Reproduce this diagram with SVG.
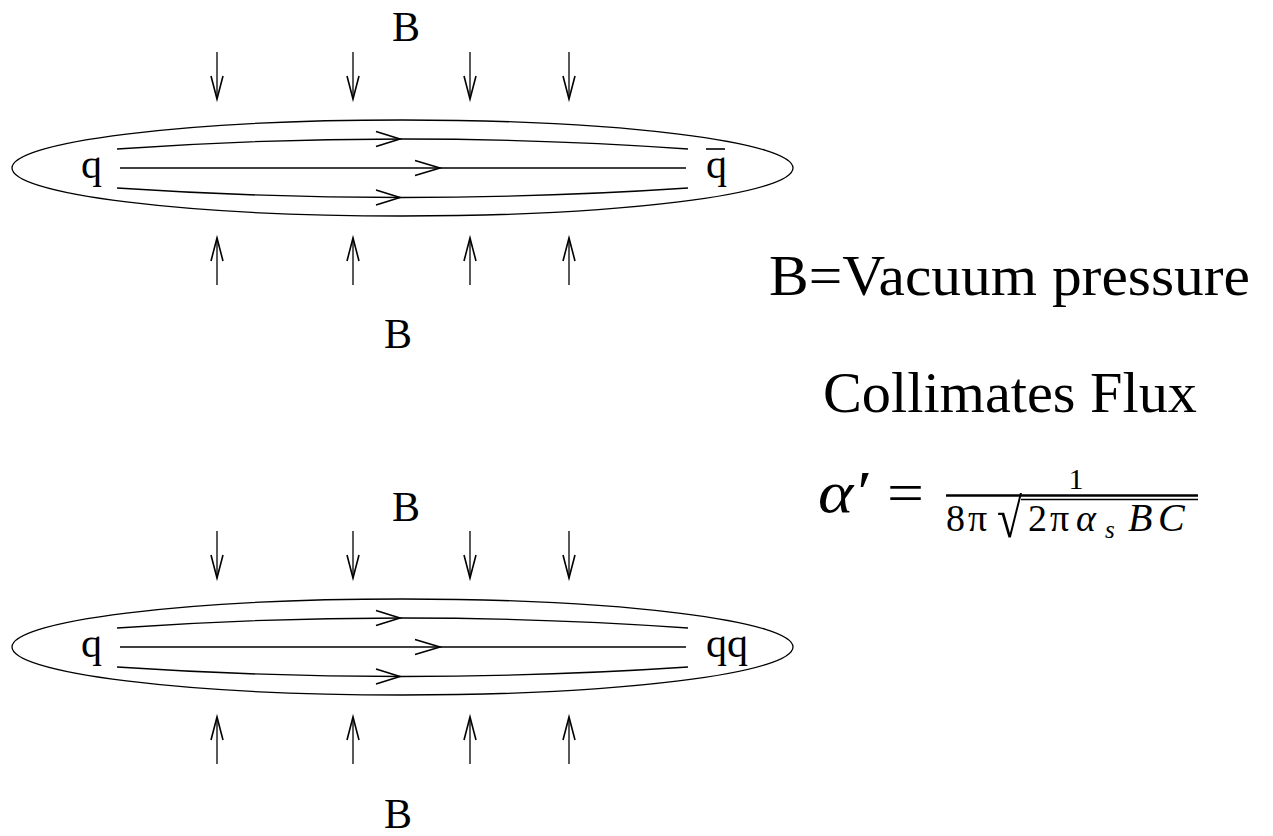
<svg xmlns="http://www.w3.org/2000/svg" width="1273" height="836" viewBox="0 0 1273 836">
<style>
.bg{fill:#fff}
.ell{fill:none;stroke:#000;stroke-width:1.3}
.ln{fill:none;stroke:#000;stroke-width:1.3}
.hd{fill:none;stroke:#000;stroke-width:1.6;stroke-linejoin:miter}
.lbl{font-family:"Liberation Serif","Times New Roman",serif;font-size:42px;fill:#000}
.big{font-family:"Liberation Serif","Times New Roman",serif;font-size:56px;fill:#000}
.den{font-family:"Liberation Serif","Times New Roman",serif;font-size:38px;fill:#000}
.it{font-style:italic}
</style>
<defs>
<g id="down"><line x1="0" y1="52" x2="0" y2="99" class="ln"/><polyline points="-6,76 0,99 6,76" class="hd"/></g>
<g id="up"><line x1="0" y1="238" x2="0" y2="285" class="ln"/><polyline points="-6,261 0,238 6,261" class="hd"/></g>
</defs>
<rect class="bg" x="0" y="0" width="1273" height="836"/>

<g id="diagram-top">
  <g id="top-B-above"><text class="lbl" x="406" y="41" text-anchor="middle">B</text></g>
  <g id="top-pressure-down">
    <use href="#down" x="217"/><use href="#down" x="353"/><use href="#down" x="470"/><use href="#down" x="569"/>
  </g>
  <g id="top-tube"><ellipse class="ell" cx="402.5" cy="168" rx="390.5" ry="48"/></g>
  <g id="top-q"><text class="lbl" x="81" y="178">q</text></g>
  <g id="top-qbar"><text class="lbl" x="706" y="178">q</text><line x1="706" y1="149" x2="725" y2="149" stroke="#000" stroke-width="1.6"/></g>
  <g id="top-flux">
    <path class="ln" d="M117,149 Q402,129 688,149"/>
    <path class="ln" d="M120,168 L686,168"/>
    <path class="ln" d="M117,188 Q402,207 688,188"/>
    <polyline class="hd" points="376,131.5 400,139 376,146.5"/>
    <polyline class="hd" points="415,160.5 440,168 415,175.5"/>
    <polyline class="hd" points="376,190 400,197.5 376,205"/>
  </g>
  <g id="top-pressure-up">
    <use href="#up" x="217"/><use href="#up" x="353"/><use href="#up" x="470"/><use href="#up" x="569"/>
  </g>
  <g id="top-B-below"><text class="lbl" x="398" y="348" text-anchor="middle">B</text></g>
</g>

<g id="diagram-bottom" transform="translate(0,479)">
  <g id="bot-B-above"><text class="lbl" x="406" y="42" text-anchor="middle">B</text></g>
  <g id="bot-pressure-down">
    <use href="#down" x="217"/><use href="#down" x="353"/><use href="#down" x="470"/><use href="#down" x="569"/>
  </g>
  <g id="bot-tube"><ellipse class="ell" cx="402.5" cy="168" rx="390.5" ry="48"/></g>
  <g id="bot-q"><text class="lbl" x="81" y="178">q</text></g>
  <g id="bot-qq"><text class="lbl" x="706" y="178">qq</text></g>
  <g id="bot-flux">
    <path class="ln" d="M117,149 Q402,129 688,149"/>
    <path class="ln" d="M120,168 L686,168"/>
    <path class="ln" d="M117,188 Q402,207 688,188"/>
    <polyline class="hd" points="376,131.5 400,139 376,146.5"/>
    <polyline class="hd" points="415,160.5 440,168 415,175.5"/>
    <polyline class="hd" points="376,190 400,197.5 376,205"/>
  </g>
  <g id="bot-pressure-up">
    <use href="#up" x="217"/><use href="#up" x="353"/><use href="#up" x="470"/><use href="#up" x="569"/>
  </g>
  <g id="bot-B-below"><text class="lbl" x="398" y="349" text-anchor="middle">B</text></g>
</g>

<g id="legend">
  <text class="big" x="769" y="295" textLength="481" lengthAdjust="spacingAndGlyphs">B=Vacuum pressure</text>
  <text class="big" x="823" y="412" textLength="374" lengthAdjust="spacingAndGlyphs">Collimates Flux</text>
  <g id="formula">
    <text class="big it" x="818" y="512" style="font-size:60px" textLength="50" lengthAdjust="spacingAndGlyphs">α′</text>
    <text class="big" x="887" y="512" textLength="37" lengthAdjust="spacingAndGlyphs">=</text>
    <text class="den" x="1076" y="489" text-anchor="middle" style="font-size:30px">1</text>
    <line x1="946" y1="495.5" x2="1198" y2="495.5" stroke="#000" stroke-width="2.4"/>
    <line x1="1021" y1="499.5" x2="1198" y2="499.5" stroke="#000" stroke-width="1.6"/>
    <text class="den" x="946" y="531">8</text>
    <text class="den" x="968" y="531">π</text>
    <text class="den" x="997" y="537" style="font-size:56px" textLength="25" lengthAdjust="spacingAndGlyphs">√</text>
    <text class="den" x="1028" y="531">2</text>
    <text class="den" x="1050" y="531">π</text>
    <text class="den it" x="1076" y="531">α</text>
    <text class="den it" x="1105" y="538" style="font-size:25px">s</text>
    <text class="den it" x="1128" y="531" style="font-size:40px">B</text>
    <text class="den it" x="1158" y="531" style="font-size:40px">C</text>
  </g>
</g>
</svg>
